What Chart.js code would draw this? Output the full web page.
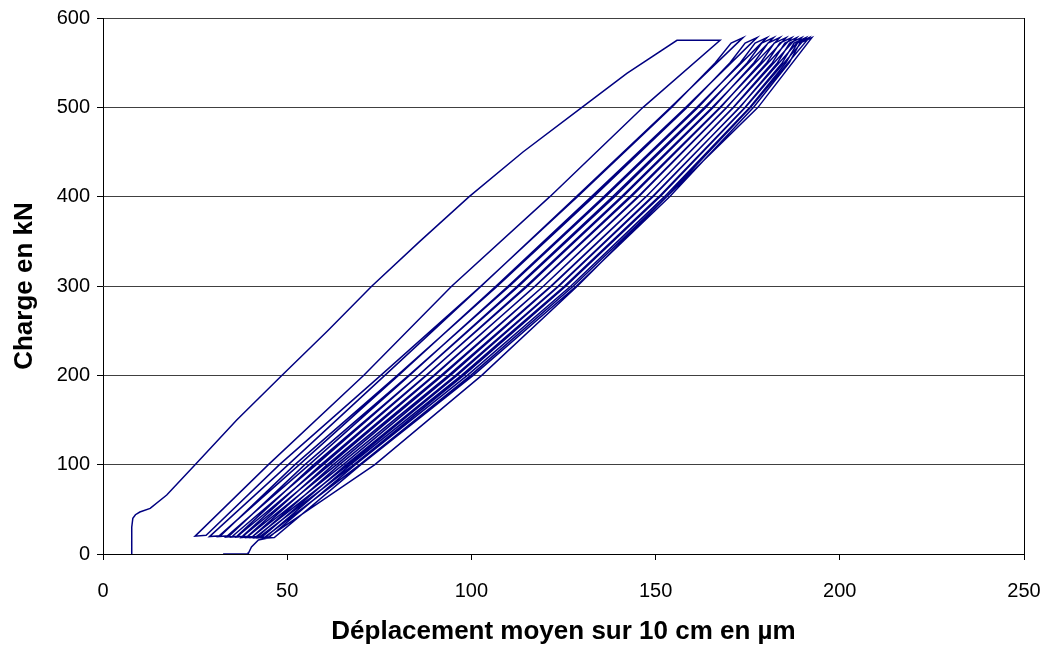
<!DOCTYPE html>
<html>
<head>
<meta charset="utf-8">
<script src="https://cdn.jsdelivr.net/npm/chart.js@4.4.1/dist/chart.umd.min.js"></script>
<style>
  html, body { margin: 0; padding: 0; background: #fff; }
  #chart { display: block; }
</style>
</head>
<body>
<canvas id="chart" width="1048" height="648"></canvas>
<script>
// first loading up to the 575 kN plateau (displacement in µm, load in kN)
const firstLoadX = [7.8, 7.8, 8.1, 8.8, 10, 12.8, 17.3, 25, 36.3, 48.6, 61, 73, 86, 99.4, 114, 130, 142.2, 155.8, 167.5];
const firstLoadY = [0, 30, 40, 44, 47, 51, 66, 100, 150, 200, 250, 300, 350, 400, 450, 500, 538, 575, 575];

// unloading branches, from each top down to the ~20 kN floor
const unloadX = [
  [146.6, 121.3, 94.7, 70.8, 44.9, 25.0],
  [154.1, 128.5, 102.7, 76.5, 50.3, 28.9],
  [158.2, 132.6, 106.7, 80.2, 53.3, 31.3],
  [161.2, 135.9, 110.0, 83.2, 56.0, 33.4],
  [163.3, 138.3, 112.5, 85.6, 57.9, 34.9],
  [165.4, 140.7, 114.9, 87.8, 59.8, 36.3],
  [167.5, 143.0, 117.3, 90.0, 61.6, 37.6],
  [169.3, 145.2, 119.6, 92.2, 63.4, 39.0],
  [171.2, 147.4, 121.8, 94.3, 65.2, 40.3],
  [172.8, 149.3, 123.8, 96.1, 66.6, 41.2],
  [174.4, 151.2, 125.7, 97.9, 68.1, 42.2],
  [175.8, 153.0, 127.7, 99.8, 69.7, 43.5],
  [177.8, 153.0, 128.8, 102.8, 73.8, 44.4]
];
const unloadY = [
  [500, 400, 300, 200, 100, 20],
  [500, 400, 300, 200, 100, 19.5],
  [500, 400, 300, 200, 100, 19.5],
  [500, 400, 300, 200, 100, 19],
  [500, 400, 300, 200, 100, 19],
  [500, 400, 300, 200, 100, 19],
  [500, 400, 300, 200, 100, 18.5],
  [500, 400, 300, 200, 100, 18.5],
  [500, 400, 300, 200, 100, 18.5],
  [500, 400, 300, 200, 100, 18],
  [500, 400, 300, 200, 100, 18],
  [500, 400, 300, 200, 100, 17.5],
  [500, 400, 300, 200, 100, 17.5]
];

// reloading branches, from the floor back up to the next top
const reloadX = [
  [28.0, 47.9, 75.4, 102.6, 128.8, 154.4, 166.2, 170.5, 173.7],
  [31.9, 52.1, 79.9, 107.1, 133.2, 158.6, 170.2, 174.3, 177.5],
  [34.3, 54.8, 83.0, 110.4, 136.4, 161.6, 173.0, 177.0, 180.2],
  [36.4, 57.2, 85.6, 112.9, 138.9, 163.7, 174.9, 178.8, 182.0],
  [37.9, 59.2, 87.7, 115.3, 141.1, 165.7, 176.7, 180.5, 183.7],
  [39.3, 60.9, 89.8, 117.4, 143.4, 167.7, 178.5, 182.2, 185.4],
  [40.6, 62.5, 91.8, 119.6, 145.4, 169.4, 180.2, 183.7, 186.9],
  [42.0, 64.2, 93.8, 121.6, 147.4, 171.1, 181.7, 185.1, 188.3],
  [43.3, 66.0, 95.7, 123.6, 149.1, 172.9, 183.1, 186.4, 189.6],
  [44.2, 67.2, 97.3, 125.3, 150.9, 174.3, 184.4, 187.6, 190.8],
  [45.2, 68.5, 98.9, 127.0, 152.4, 175.6, 185.4, 188.5, 191.7],
  [46.5, 70.0, 100.5, 128.5, 153.8, 176.6, 186.3, 189.2, 192.4]
];
const reloadY = [
  [21, 100, 200, 300, 400, 500, 550, 572, 578],
  [20.5, 100, 200, 300, 400, 500, 550, 572, 578],
  [20.5, 100, 200, 300, 400, 500, 550, 572, 578],
  [20, 100, 200, 300, 400, 500, 550, 572, 578],
  [20, 100, 200, 300, 400, 500, 550, 572, 578],
  [20, 100, 200, 300, 400, 500, 550, 572, 578],
  [19.5, 100, 200, 300, 400, 500, 550, 572, 578],
  [19.5, 100, 200, 300, 400, 500, 550, 572, 578],
  [19.5, 100, 200, 300, 400, 500, 550, 572, 578],
  [19, 100, 200, 300, 400, 500, 550, 572, 578],
  [19, 100, 200, 300, 400, 500, 550, 572, 578],
  [18.5, 100, 200, 300, 400, 500, 550, 572, 578]
];

// final release to zero
const releaseX = [42.2, 40.3, 39.6, 39.4, 32.6];
const releaseY = [15.7, 8, 2, 0, 0];

const points = [];
function addBranch(xs, ys) {
  for (let i = 0; i < xs.length; i++) points.push({ x: xs[i], y: ys[i] });
}
addBranch(firstLoadX, firstLoadY);
for (let c = 0; c < unloadX.length; c++) {
  addBranch(unloadX[c], unloadY[c]);
  if (reloadX[c]) addBranch(reloadX[c], reloadY[c]);
}
addBranch(releaseX, releaseY);

const tickFont = { family: "'Liberation Sans', Arial, sans-serif", size: 20 };
const titleFont = { family: "'Liberation Sans', Arial, sans-serif", size: 26, weight: "bold" };

const config = {
  type: "scatter",
  data: {
    datasets: [
      {
        label: "Charge",
        data: points,
        showLine: true,
        borderColor: "#000080",
        borderWidth: 1.5,
        pointRadius: 0,
        fill: false,
        tension: 0,
      },
    ],
  },
  options: {
    responsive: false,
    animation: false,
    layout: { padding: { left: 0, right: 24, top: 18, bottom: 0 } },
    plugins: { legend: { display: false }, tooltip: { enabled: false } },
    scales: {
      x: {
        type: "linear",
        min: 0,
        max: 250,
        ticks: { stepSize: 50, padding: 19, color: "#000", font: tickFont },
        grid: {
          color: (ctx) => (ctx.tick && ctx.tick.value === 250 ? "#000" : "rgba(0,0,0,0)"),
          tickColor: "#000",
          tickLength: 6,
        },
        border: { color: "#000", width: 1 },
        title: {
          display: true,
          text: "Déplacement moyen sur 10 cm en µm",
          color: "#000",
          font: titleFont,
          padding: { top: 0, bottom: 1 },
        },
        afterFit: (scale) => {
          scale.height = 94;
          scale.paddingLeft = 0;
          scale.paddingRight = 0;
        },
      },
      y: {
        type: "linear",
        min: 0,
        max: 600,
        ticks: { stepSize: 100, padding: 7, color: "#000", font: tickFont },
        grid: { color: "#404040", tickColor: "#000", tickLength: 6 },
        border: { color: "#000", width: 1 },
        title: {
          display: true,
          text: "Charge en kN",
          color: "#000",
          font: titleFont,
          padding: { top: 9, bottom: 0 },
        },
        afterFit: (scale) => {
          scale.width = 103;
          scale.paddingTop = 0;
          scale.paddingBottom = 0;
        },
      },
    },
  },
};

const canvas = document.getElementById("chart");
const chart = new Chart(canvas, config);
</script>
</body>
</html>
